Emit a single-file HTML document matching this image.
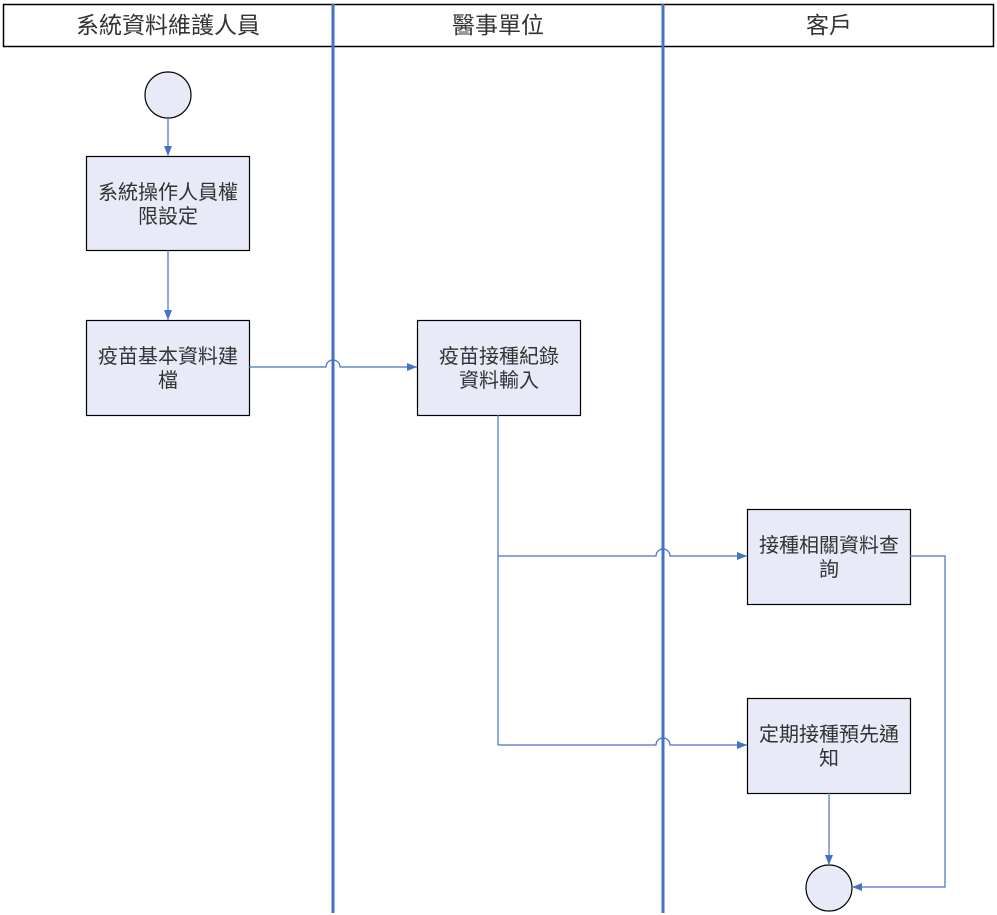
<!DOCTYPE html>
<html><head><meta charset="utf-8"><style>body{margin:0;background:#fff}svg{display:block}text{font-family:"Liberation Sans","Noto Sans CJK TC",sans-serif;fill:#333}</style></head><body>
<svg width="997" height="915" viewBox="0 0 997 915" xmlns="http://www.w3.org/2000/svg">
<defs><marker id="a" markerWidth="10" markerHeight="8" refX="10" refY="4" orient="auto" markerUnits="userSpaceOnUse"><path d="M0,0 L10,4 L0,8 Z" fill="#4472c4"/></marker></defs>
<rect x="3.5" y="4.5" width="990" height="42" fill="#fff" stroke="#000" stroke-width="1.5"/>
<text x="168" y="33" font-size="23" text-anchor="middle">系統資料維護人員</text>
<text x="498" y="33" font-size="23" text-anchor="middle">醫事單位</text>
<text x="829" y="33" font-size="23" text-anchor="middle">客戶</text>
<line x1="333" y1="4" x2="333" y2="913" stroke="#4472c4" stroke-width="3"/>
<line x1="663" y1="4" x2="663" y2="913" stroke="#4472c4" stroke-width="3"/>
<g fill="#e8eaf8" stroke="#000" stroke-width="1.2">
<circle cx="168" cy="95" r="23"/>
<rect x="86.5" y="156.5" width="163" height="94"/>
<rect x="86.5" y="320.5" width="163" height="95"/>
<rect x="417.5" y="320.5" width="163" height="95"/>
<rect x="747.5" y="509.5" width="163" height="95"/>
<rect x="747.5" y="698.5" width="163" height="95"/>
<circle cx="829" cy="888" r="23"/>
</g>
<g font-size="20" text-anchor="middle">
<text x="168" y="199">系統操作人員權</text><text x="168" y="223">限設定</text>
<text x="168" y="363">疫苗基本資料建</text><text x="168" y="387">檔</text>
<text x="499" y="363">疫苗接種紀錄</text><text x="499" y="387">資料輸入</text>
<text x="829" y="552">接種相關資料查</text><text x="829" y="576">詢</text>
<text x="829" y="741">定期接種預先通</text><text x="829" y="765">知</text>
</g>
<g fill="none" stroke="#4472c4" stroke-width="1.2">
<line x1="168" y1="118" x2="168" y2="156" marker-end="url(#a)"/>
<line x1="168" y1="250" x2="168" y2="320" marker-end="url(#a)"/>
<path d="M249,367 H326 A7,7 0 0 1 340,367 H417" marker-end="url(#a)"/>
<line x1="498" y1="415" x2="498" y2="745"/>
<path d="M498,556 H656 A7,7 0 0 1 670,556 H747" marker-end="url(#a)"/>
<path d="M498,745 H656 A7,7 0 0 1 670,745 H747" marker-end="url(#a)"/>
<path d="M910,556 H945 V887 H852" marker-end="url(#a)"/>
<line x1="829" y1="793" x2="829" y2="865" marker-end="url(#a)"/>
</g>
</svg>
</body></html>
